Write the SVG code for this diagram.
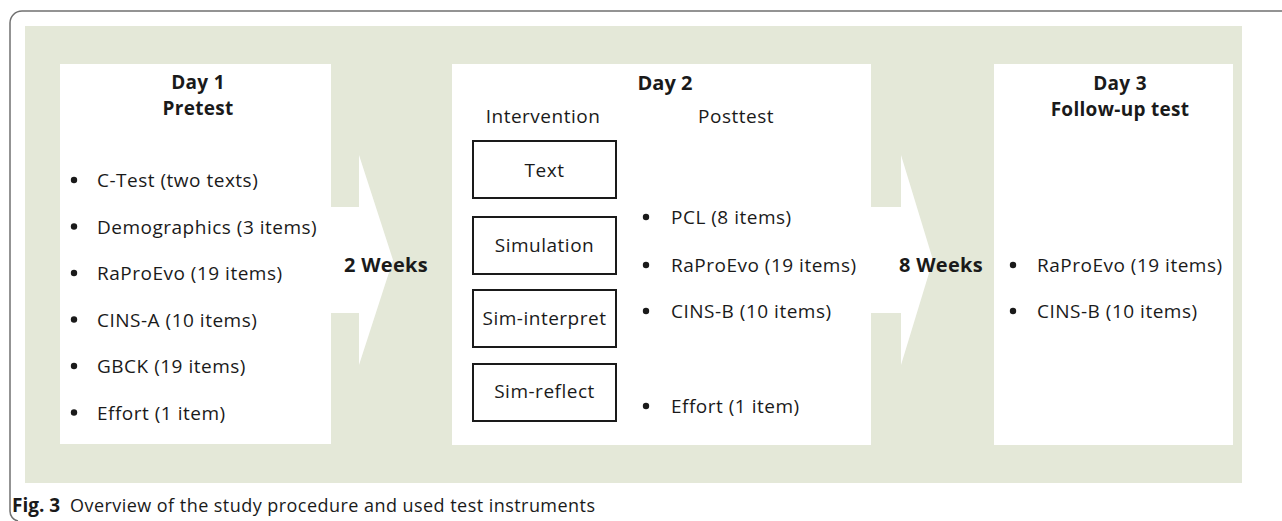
<svg xmlns="http://www.w3.org/2000/svg" width="1282" height="521" viewBox="0 0 1282 521">
  <style>
    .panel { fill: #ffffff; }
    .band { fill: #e4e8d8; }
    .frame { fill: none; stroke: #707070; stroke-width: 1.5; }
    .box { fill: #ffffff; stroke: #1a1a1a; stroke-width: 2; }
    .dot { fill: #1a1a1a; }
    text { font-family: "Open Sans", "Noto Sans", "Liberation Sans", sans-serif; fill: #1a1a1a; }
    .head { font-size: 20px; font-weight: 700; text-anchor: middle; }
    .head2 { font-size: 19px; font-weight: 700; letter-spacing: 0.3px; text-anchor: middle; }
    .sub { font-size: 19px; letter-spacing: 0.5px; text-anchor: middle; }
    .item { font-size: 19px; letter-spacing: 0.5px; }
    .lbl { font-size: 19px; font-weight: 500; letter-spacing: 0.5px; text-anchor: middle; }
    .gap { font-size: 20px; font-weight: 700; letter-spacing: 0.3px; }
    .cap { font-size: 18px; }
  </style>
  <defs>
    <circle id="bullet" r="3.2"/>
  </defs>

  <!-- outer figure frame -->
  <path class="frame" d="M1282,11 H22 A12,12 0 0 0 10,23 V511 A10,10 0 0 0 18,521"/>

  <!-- shaded background band -->
  <rect class="band" x="25" y="26" width="1217" height="457"/>

  <!-- time-gap arrows between the days -->
  <g id="connectors">
    <polygon class="panel" points="331,207 359,207 359,155 393,260 359,365 359,313 331,313"/>
    <polygon class="panel" points="871,207 901,207 901,155 933,260 901,365 901,313 871,313"/>
    <text class="gap" x="344" y="272">2 Weeks</text>
    <text class="gap" x="899" y="272">8 Weeks</text>
  </g>

  <!-- Day 1: pretest -->
  <g id="day1">
    <rect class="panel" x="60" y="64" width="271" height="380"/>
    <text class="head2" x="198" y="89">Day 1</text>
    <text class="head2" x="198" y="115">Pretest</text>
    <g class="dot">
      <use href="#bullet" x="74" y="180"/>
      <use href="#bullet" x="74" y="226.5"/>
      <use href="#bullet" x="74" y="273"/>
      <use href="#bullet" x="74" y="319.5"/>
      <use href="#bullet" x="74" y="366"/>
      <use href="#bullet" x="74" y="412.5"/>
    </g>
    <text class="item" x="97" y="187">C-Test (two texts)</text>
    <text class="item" x="97" y="233.5">Demographics (3 items)</text>
    <text class="item" x="97" y="280">RaProEvo (19 items)</text>
    <text class="item" x="97" y="326.5">CINS-A (10 items)</text>
    <text class="item" x="97" y="373">GBCK (19 items)</text>
    <text class="item" x="97" y="419.5">Effort (1 item)</text>
  </g>

  <!-- Day 2: intervention and posttest -->
  <g id="day2">
    <rect class="panel" x="452" y="64" width="419" height="381"/>
    <text class="head" x="665" y="90">Day 2</text>
    <text class="sub" x="543" y="123">Intervention</text>
    <text class="sub" x="736" y="123">Posttest</text>

    <g id="text-condition">
      <rect class="box" x="473" y="141" width="143" height="57"/>
      <text class="lbl" x="544.5" y="177">Text</text>
    </g>
    <g id="simulation-condition">
      <rect class="box" x="473" y="217" width="143" height="57"/>
      <text class="lbl" x="544.5" y="252">Simulation</text>
    </g>
    <g id="sim-interpret-condition">
      <rect class="box" x="473" y="290" width="143" height="57"/>
      <text class="lbl" x="544.5" y="325">Sim-interpret</text>
    </g>
    <g id="sim-reflect-condition">
      <rect class="box" x="473" y="364" width="143" height="57"/>
      <text class="lbl" x="544.5" y="398">Sim-reflect</text>
    </g>

    <g class="dot">
      <use href="#bullet" x="646" y="217"/>
      <use href="#bullet" x="646" y="265"/>
      <use href="#bullet" x="646" y="311"/>
      <use href="#bullet" x="646" y="406"/>
    </g>
    <text class="item" x="671" y="224">PCL (8 items)</text>
    <text class="item" x="671" y="272">RaProEvo (19 items)</text>
    <text class="item" x="671" y="318">CINS-B (10 items)</text>
    <text class="item" x="671" y="413">Effort (1 item)</text>
  </g>

  <!-- Day 3: follow-up test -->
  <g id="day3">
    <rect class="panel" x="994" y="64" width="239" height="381"/>
    <text class="head2" x="1120" y="90">Day 3</text>
    <text class="head2" x="1120" y="116">Follow-up test</text>
    <g class="dot">
      <use href="#bullet" x="1013" y="265"/>
      <use href="#bullet" x="1013" y="311"/>
    </g>
    <text class="item" x="1037" y="272">RaProEvo (19 items)</text>
    <text class="item" x="1037" y="318">CINS-B (10 items)</text>
  </g>

  <!-- figure caption -->
  <text class="cap" x="12" y="512"><tspan font-weight="700" font-size="19">Fig. 3</tspan><tspan x="70" textLength="525">Overview of the study procedure and used test instruments</tspan></text>
</svg>
